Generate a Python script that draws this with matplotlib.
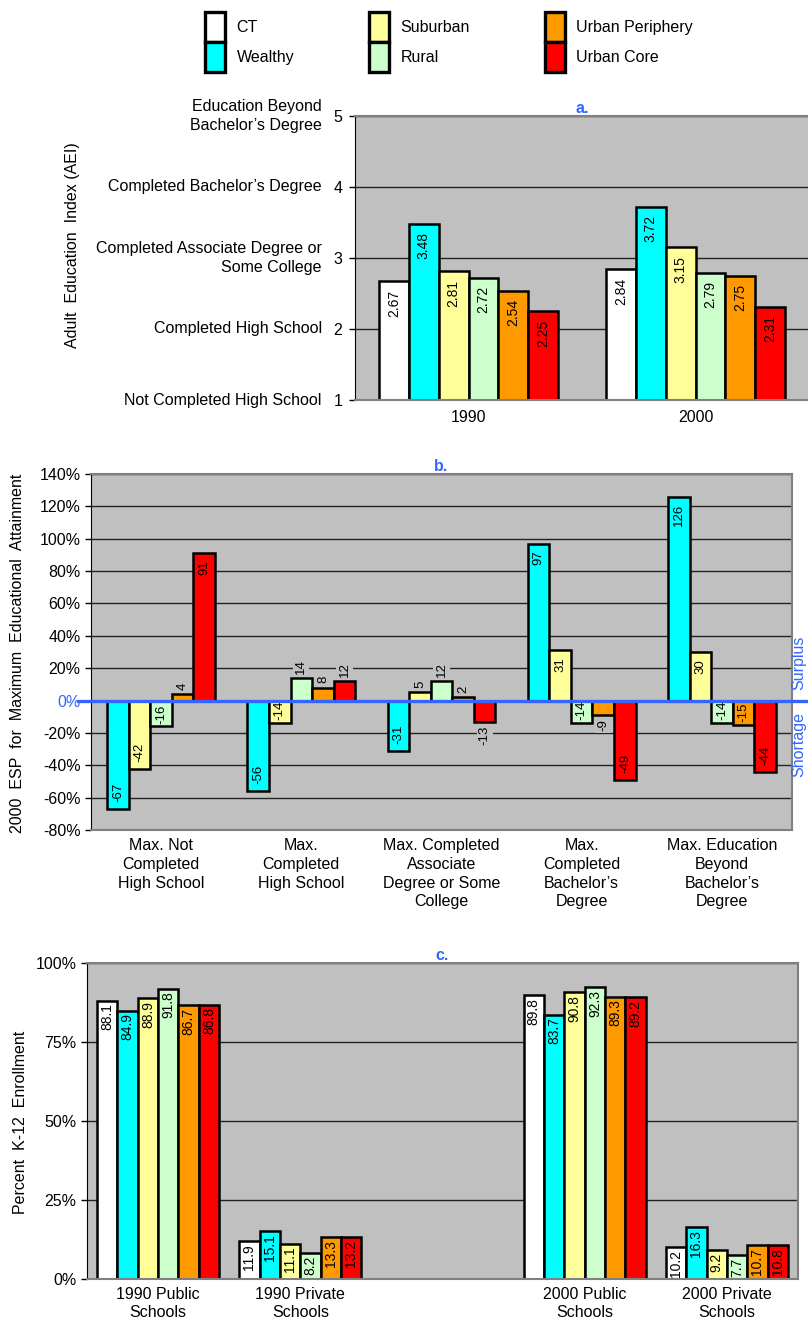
import matplotlib
matplotlib.use('Agg')
import matplotlib.pyplot as plt
import numpy as np
from matplotlib.patches import Patch

plt.rcParams['font.family'] = ['Liberation Sans', 'DejaVu Sans']
plt.rcParams['font.size'] = 11.5

# series / colours
series = ['CT', 'Wealthy', 'Suburban', 'Rural', 'Urban Periphery', 'Urban Core']
colors = ['#ffffff', '#00ffff', '#ffff99', '#ccffcc', '#ff9900', '#ff0000']

# a. adult education index
aei_years = ['1990', '2000']
aei_1990 = [2.67, 3.48, 2.81, 2.72, 2.54, 2.25]
aei_2000 = [2.84, 3.72, 3.15, 2.79, 2.75, 2.31]
aei_levels = ['Not Completed High School', 'Completed High School',
              'Completed Associate Degree or\nSome College',
              'Completed Bachelor\u2019s Degree',
              'Education Beyond\nBachelor\u2019s Degree']

# b. 2000 ESP (CT is the baseline, so no CT bars)
esp_cats = ['Max. Not\nCompleted\nHigh School', 'Max.\nCompleted\nHigh School',
            'Max. Completed\nAssociate\nDegree or Some\nCollege',
            'Max.\nCompleted\nBachelor\u2019s\nDegree',
            'Max. Education\nBeyond\nBachelor\u2019s\nDegree']
esp_wealthy = [-67, -56, -31, 97, 126]
esp_suburban = [-42, -14, 5, 31, 30]
esp_rural = [-16, 14, 12, -14, -14]
esp_periphery = [4, 8, 2, -9, -15]
esp_core = [91, 12, -13, -49, -44]

# c. K-12 enrollment (middle category left empty)
enr_cats = ['1990 Public\nSchools', '1990 Private\nSchools', '',
            '2000 Public\nSchools', '2000 Private\nSchools']
enr_1990_pub = [88.1, 84.9, 88.9, 91.8, 86.7, 86.8]
enr_1990_priv = [11.9, 15.1, 11.1, 8.2, 13.3, 13.2]
enr_2000_pub = [89.8, 83.7, 90.8, 92.3, 89.3, 89.2]
enr_2000_priv = [10.2, 16.3, 9.2, 7.7, 10.7, 10.8]

BG = '#c0c0c0'
BLUE = '#3366ff'
NARROW = ['Liberation Sans Narrow', 'Liberation Sans', 'DejaVu Sans']

W, H = 808, 1321
fig = plt.figure(figsize=(W / 100, H / 100), dpi=100)


def box(l, t, r, b):
    return [l / W, 1 - b / H, (r - l) / W, (b - t) / H]


def style_axes(ax):
    ax.set_facecolor(BG)
    ax.set_axisbelow(True)
    ax.yaxis.grid(True, color='#222222', linewidth=1)
    for s in ['top', 'right', 'bottom']:
        ax.spines[s].set_color('#808080')
        ax.spines[s].set_linewidth(1.5)
    ax.spines['left'].set_color('#000000')
    ax.tick_params(axis='x', length=0)
    ax.tick_params(axis='y', length=4, width=1)


def label(ax, x, v, txt, inside, base=0, size=10, gap=3):
    up = v >= base
    if inside:
        va, off = ('top', -gap) if up else ('bottom', gap)
        bb = None
    else:
        va, off = ('bottom', 3) if up else ('top', -3)
        bb = dict(facecolor=BG, edgecolor='none', pad=1.5)
    ax.annotate(txt, (x, v), xytext=(0, off), textcoords='offset points',
                rotation=90, ha='center', va=va, fontsize=size,
                family=NARROW, bbox=bb)


# ---------------- a ----------------
ax1 = fig.add_axes(box(355, 116, 809, 400))
style_axes(ax1)
ax1.spines['right'].set_visible(False)
xa = np.arange(len(aei_years))
bw = 0.79 / len(series)
for i, (name, col) in enumerate(zip(series, colors)):
    vals = np.array([aei_1990[i], aei_2000[i]])
    xs = xa - 0.395 + bw * (i + 0.5)
    ax1.bar(xs, vals - 1, bottom=1, width=bw, color=col,
            edgecolor='black', linewidth=1.8)
    for x, v in zip(xs, vals):
        label(ax1, x, v, f'{v:.2f}', True, base=1, size=10, gap=6)
ax1.set_xlim(-0.5, 1.5)
ax1.set_ylim(1, 5)
ax1.set_yticks([1, 2, 3, 4, 5])
ax1.set_yticklabels(['1', '2', '3', '4', '5'])
ax1.tick_params(axis='y', pad=5)
for t, lev in zip([1, 2, 3, 4, 5], aei_levels):
    ax1.annotate(lev, (0, t), xycoords=('axes fraction', 'data'),
                 xytext=(-24, 0), textcoords='offset points',
                 ha='right', va='center', linespacing=1.3)
ax1.set_xticks(xa)
ax1.set_xticklabels(aei_years)
ax1.tick_params(axis='x', pad=7)
ax1.set_title('a.', color=BLUE, fontweight='bold', fontsize=11.5, pad=2)
fig.text(72 / W, 1 - 245 / H, 'Adult  Education  Index (AEI)',
         rotation=90, ha='center', va='center')

# ---------------- b ----------------
ax2 = fig.add_axes(box(91, 474, 792, 830))
style_axes(ax2)
esp_series = [esp_wealthy, esp_suburban, esp_rural, esp_periphery, esp_core]
xb = np.arange(len(esp_cats))
bw2 = 0.77 / len(esp_series)
for i, (vals, col) in enumerate(zip(esp_series, colors[1:])):
    xs = xb - 0.385 + bw2 * (i + 0.5)
    ax2.bar(xs, vals, width=bw2, color=col, edgecolor='black', linewidth=1.8)
    for x, v in zip(xs, vals):
        label(ax2, x, v, f'{v}', v >= 20 or v <= -14, size=9.5,
              gap=5 if abs(v) > 20 else 2)
ax2.set_xlim(-0.5, len(esp_cats) - 0.5)
ax2.set_ylim(-80, 140)
yt = np.arange(-80, 141, 20)
ax2.set_yticks(yt)
ax2.set_yticklabels([f'{t}%' for t in yt])
for t, tl in zip(yt, ax2.get_yticklabels()):
    if t == 0:
        tl.set_color(BLUE)
ax2.set_xticks(xb)
ax2.set_xticklabels(esp_cats, linespacing=1.3)
ax2.tick_params(axis='x', pad=6)
ax2.plot([-13 / 701, 1.03], [0, 0], color=BLUE, linewidth=2.4,
         transform=ax2.get_yaxis_transform(), clip_on=False, zorder=5)
ax2.set_title('b.', color=BLUE, fontweight='bold', fontsize=11.5, pad=2)
fig.text(18 / W, 1 - 653 / H,
         '2000  ESP  for  Maximum  Educational  Attainment',
         rotation=90, ha='center', va='center')
fig.text(799 / W, 1 - 690 / H, 'Surplus', color=BLUE, rotation=90,
         ha='center', va='bottom')
fig.text(799 / W, 1 - 712 / H, 'Shortage', color=BLUE, rotation=90,
         ha='center', va='top')

# ---------------- c ----------------
ax3 = fig.add_axes(box(87, 963, 798, 1279))
style_axes(ax3)
enr_groups = [enr_1990_pub, enr_1990_priv, [np.nan] * 6, enr_2000_pub,
              enr_2000_priv]
xc = np.arange(len(enr_cats))
bw3 = 0.86 / len(series)
for i, col in enumerate(colors):
    vals = np.array([g[i] for g in enr_groups])
    xs = xc - 0.43 + bw3 * (i + 0.5)
    ax3.bar(xs, vals, width=bw3, color=col, edgecolor='black', linewidth=1.8)
    for x, v in zip(xs, vals):
        if not np.isnan(v):
            label(ax3, x, v, f'{v:.1f}', True, size=10, gap=2)
ax3.set_xlim(-0.5, len(enr_cats) - 0.5)
ax3.set_ylim(0, 100)
ax3.set_yticks([0, 25, 50, 75, 100])
ax3.set_yticklabels(['0%', '25%', '50%', '75%', '100%'])
ax3.set_xticks(xc)
ax3.set_xticklabels(enr_cats, linespacing=1.25)
ax3.tick_params(axis='x', pad=6)
ax3.set_title('c.', color=BLUE, fontweight='bold', fontsize=11.5, pad=2)
fig.text(21 / W, 1 - 1122 / H, 'Percent  K-12  Enrollment',
         rotation=90, ha='center', va='center')

# legend
handles = [Patch(facecolor=c, edgecolor='black', linewidth=2.4) for c in colors]
fig.legend(handles, series, ncol=3, loc='upper center',
           bbox_to_anchor=(449 / W, 1 - 4 / H), frameon=False,
           handlelength=1.25, handleheight=2.5, labelspacing=0.0,
           handletextpad=0.7, columnspacing=4.7, borderpad=0)

fig.savefig('out.png', dpi=100)
